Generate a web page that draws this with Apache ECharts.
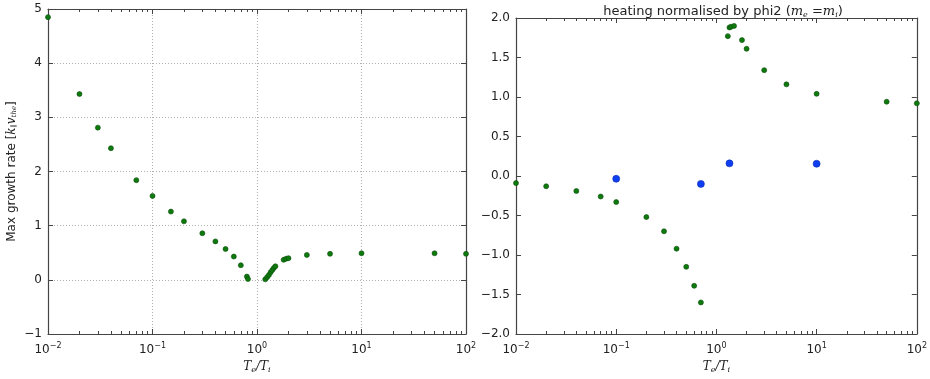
<!DOCTYPE html>
<html lang="en">
<head>
  <meta charset="UTF-8" />
  <title>growth rate and heating</title>
  <script src="https://cdn.jsdelivr.net/npm/echarts@6/dist/echarts.min.js"></script>
</head>
<body style="margin:0; background:#fff;">
  <div id="main" style="width:930px; height:379px;"></div>
  <script type="text/javascript">
    // left panel: max growth rate vs Te/Ti
    var growthX = [0.01, 0.02, 0.03, 0.04, 0.07, 0.1, 0.15, 0.2, 0.3, 0.4, 0.5, 0.6, 0.7, 0.8, 0.82,
                   1.2, 1.25, 1.3, 1.35, 1.4, 1.45, 1.5, 1.8, 1.9, 2.0, 3, 5, 10, 50, 100];
    var growthY = [4.85, 3.43, 2.81, 2.43, 1.84, 1.55, 1.26, 1.08, 0.86, 0.71, 0.57, 0.43, 0.27, 0.06, 0.015,
                   0.01, 0.05, 0.09, 0.14, 0.18, 0.22, 0.25, 0.37, 0.39, 0.40, 0.46, 0.48, 0.49, 0.49, 0.48];

    // right panel: heating normalised by phi2
    var heatX = [0.01, 0.02, 0.04, 0.07, 0.1, 0.2, 0.3, 0.4, 0.5, 0.6, 0.7,
                 1.3, 1.35, 1.4, 1.5, 1.8, 2, 3, 5, 10, 50, 100];
    var heatY = [-0.09, -0.13, -0.19, -0.26, -0.33, -0.52, -0.70, -0.92, -1.15, -1.39, -1.60,
                 1.77, 1.88, 1.89, 1.90, 1.72, 1.61, 1.34, 1.16, 1.04, 0.94, 0.92];
    var blueX = [0.1, 0.7, 1.35, 10];
    var blueY = [-0.035, -0.10, 0.16, 0.155];

    function pairs(xs, ys) {
      return xs.map(function (x, i) { return [x, ys[i]]; });
    }

    var textColor = '#222';
    var frameColor = '#444';
    var font = 'DejaVu Sans';

    function logLabel(v) {
      var e = Math.round(Math.log10(v));
      return '{b|10}{s|' + String(e).replace('-', '\u2212') + '}';
    }
    var logRich = {
      b: { fontSize: 12, fontFamily: font, color: textColor },
      s: { fontSize: 8, fontFamily: font, color: textColor, padding: [0, 0, 8, 0] }
    };
    var nameRich = {
      i: { fontFamily: 'DejaVu Serif', fontStyle: 'italic', fontSize: 12, color: textColor },
      u: { fontFamily: 'DejaVu Serif', fontStyle: 'italic', fontSize: 8, color: textColor, padding: [6, 0, 0, 0] }
    };
    var frameLine = { show: true, onZero: false, lineStyle: { color: frameColor, width: 1.2 } };

    function xBottom(grid, showGrid) {
      return {
        type: 'log', logBase: 10, gridIndex: grid, min: 0.01, max: 100, position: 'bottom',
        axisLine: frameLine,
        axisTick: { show: true, inside: true, length: 5, lineStyle: { color: frameColor } },
        minorTick: { show: true, splitNumber: 9, length: 3, lineStyle: { color: frameColor } },
        splitLine: { show: showGrid, lineStyle: { color: '#b0b0b0', type: [1, 2] } },
        axisLabel: { margin: 8, formatter: logLabel, rich: logRich },
        name: '{i|T}{u|e}{i|/T}{u|i}', nameLocation: 'middle', nameGap: 26,
        nameTextStyle: { rich: nameRich }
      };
    }
    function xTop(grid) {
      return {
        type: 'log', logBase: 10, gridIndex: grid, min: 0.01, max: 100, position: 'top',
        axisLine: frameLine,
        axisTick: { show: true, inside: true, length: 5, lineStyle: { color: frameColor } },
        minorTick: { show: true, splitNumber: 9, length: 3, lineStyle: { color: frameColor } },
        splitLine: { show: false }, axisLabel: { show: false }
      };
    }
    function yLeft(grid, min, max, step, digits, showGrid, name) {
      return {
        type: 'value', gridIndex: grid, min: min, max: max, interval: step, position: 'left',
        axisLine: frameLine,
        axisTick: { show: true, inside: true, length: 5, lineStyle: { color: frameColor } },
        splitLine: { show: showGrid, lineStyle: { color: '#b0b0b0', type: [1, 2] } },
        axisLabel: {
          margin: 6, fontSize: 12, fontFamily: font, color: textColor,
          formatter: function (v) { return v.toFixed(digits).replace('-', '\u2212'); }
        },
        name: name, nameLocation: 'middle', nameGap: 30,
        nameTextStyle: {
          fontSize: 12, fontFamily: font, color: textColor,
          rich: {
            i: { fontFamily: 'DejaVu Serif', fontStyle: 'italic', fontSize: 12, color: textColor },
            u: { fontFamily: 'DejaVu Serif', fontStyle: 'italic', fontSize: 7, color: textColor, padding: [5, 0, 0, 0] },
            t: { fontSize: 12, fontFamily: font, color: textColor }
          }
        }
      };
    }
    function yRight(grid, min, max, step) {
      return {
        type: 'value', gridIndex: grid, min: min, max: max, interval: step, position: 'right',
        axisLine: frameLine,
        axisTick: { show: true, inside: true, length: 5, lineStyle: { color: frameColor } },
        splitLine: { show: false }, axisLabel: { show: false }
      };
    }

    var green = { color: '#0e7a0e', borderColor: '#0a4c0a', borderWidth: 0.6, opacity: 1 };
    var blue = { color: '#0f3df2', borderColor: '#0a2bb0', borderWidth: 0.6, opacity: 1 };

    var chart = echarts.init(document.getElementById('main'));
    chart.setOption({
      animation: false,
      title: {
        text: '{t|heating normalised by phi2 (}{i|m}{u|e}{t| =}{i|m}{u|i}{t|)}',
        left: 718, top: 0, textAlign: 'center',
        textStyle: {
          fontWeight: 'normal',
          rich: {
            t: { fontSize: 13, fontFamily: font, fontWeight: 'normal', color: textColor },
            i: { fontFamily: 'DejaVu Serif', fontStyle: 'italic', fontWeight: 'normal', fontSize: 13, color: textColor },
            u: { fontFamily: 'DejaVu Serif', fontStyle: 'italic', fontWeight: 'normal', fontSize: 8, color: textColor, padding: [6, 0, 0, 0] }
          }
        }
      },
      grid: [
        { left: 48, top: 9, width: 418, height: 325 },
        { left: 516, top: 18, width: 406, height: 316 }
      ],
      xAxis: [xBottom(0, true), xTop(0), xBottom(1, false), xTop(1)],
      yAxis: [
        yLeft(0, -1, 5, 1, 0, true, '{t|Max growth rate [}{i|k}{u|\u2225}{i|v}{u|the}{t|]}'),
        yRight(0, -1, 5, 1),
        yLeft(1, -2, 2, 0.5, 1, false, ''),
        yRight(1, -2, 2, 0.5)
      ],
      series: [
        {
          type: 'scatter', xAxisIndex: 0, yAxisIndex: 0, symbolSize: 5,
          data: pairs(growthX, growthY), itemStyle: green
        },
        {
          type: 'scatter', xAxisIndex: 2, yAxisIndex: 2, symbolSize: 5,
          data: pairs(heatX, heatY), itemStyle: green
        },
        {
          type: 'scatter', xAxisIndex: 2, yAxisIndex: 2, symbolSize: 7,
          data: pairs(blueX, blueY), itemStyle: blue
        }
      ]
    });
  </script>
</body>
</html>
